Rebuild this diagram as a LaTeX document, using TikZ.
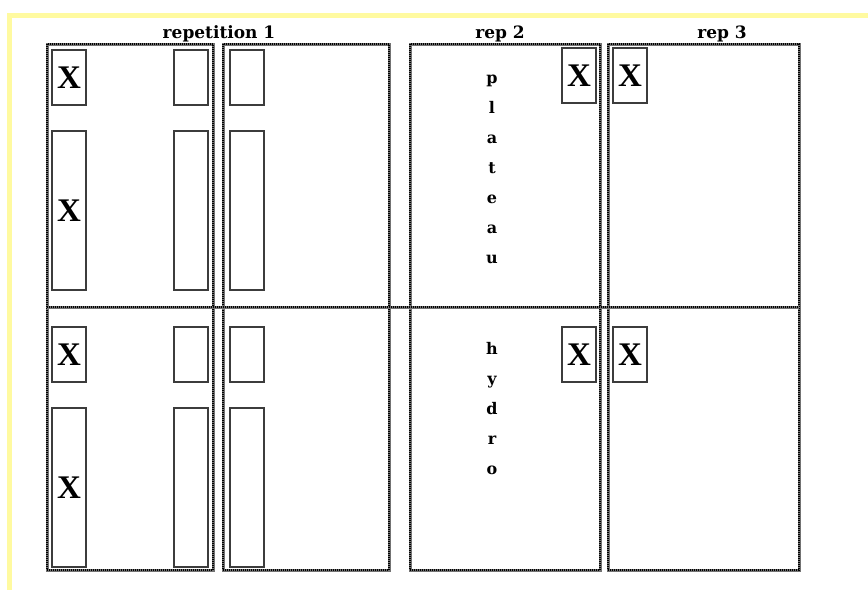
\documentclass[tikz,border=0pt]{standalone}
\usepackage{fontspec}
\setmainfont{DejaVu Serif}
\newfontfamily\xfont{Liberation Serif}
\definecolor{pageyellow}{RGB}{255,250,160}
\definecolor{boxline}{RGB}{60,60,60}
\tikzset{
  dotb/.style={draw=black!55, line width=3pt,
    postaction={draw=black, line width=1.2pt, dash pattern=on 1pt off 1pt}},
  ibox/.style={draw=boxline, line width=1.2pt, anchor=north west,
    inner sep=0pt, outer sep=0pt, minimum width=34pt},
  small/.style={ibox, minimum height=55pt},
  tall/.style={ibox, minimum height=159pt},
  xl/.style={font=\xfont\bfseries\fontsize{33}{33}\selectfont},
  ttl/.style={font=\bfseries\fontsize{17}{17}\selectfont, anchor=base, inner sep=0pt},
  vl/.style={font=\bfseries\fontsize{16}{16}\selectfont, anchor=base, inner sep=0pt}
}
\begin{document}
\begin{tikzpicture}[x=1pt,y=-1pt]
\useasboundingbox (0,0) rectangle (868,590);
% page frame
\fill[pageyellow] (7,13) rectangle (868,18);
\fill[pageyellow] (7,13) rectangle (12,590);
% titles
\node[ttl] (t1) at (219,38) {repetition 1};
\node[ttl] (t2) at (500,38) {rep 2};
\node[ttl] (t3) at (722,38) {rep 3};
% cell borders
\path[dotb] (47,44) rectangle (213,570);
\path[dotb] (223,44) rectangle (389,570);
\path[dotb] (410,44) rectangle (600,570);
\path[dotb] (608,44) rectangle (799,570);
\path[dotb] (47,307) -- (799,307);
% column A, top
\node[small, xl] (a1) at (52,50) {X};
\node[small] (a2) at (174,50) {};
\node[tall, xl] (a3) at (52,131) {X};
\node[tall] (a4) at (174,131) {};
% column B, top
\node[small] (b1) at (230,50) {};
\node[tall] (b2) at (230,131) {};
% column A, bottom
\node[small, xl] (a5) at (52,327) {X};
\node[small] (a6) at (174,327) {};
\node[tall, xl] (a7) at (52,408) {X};
\node[tall] (a8) at (174,408) {};
% column B, bottom
\node[small] (b3) at (230,327) {};
\node[tall] (b4) at (230,408) {};
% column C and D
\node[small, xl] (c1) at (562,48) {X};
\node[small, xl] (d1) at (613,48) {X};
\node[small, xl] (c2) at (562,327) {X};
\node[small, xl] (d2) at (613,327) {X};
% vertical words
\foreach \ch [count=\i] in {p,l,a,t,e,a,u}
  \node[vl] (p\i) at (492,{53+30*\i}) {\ch};
\foreach \ch [count=\i] in {h,y,d,r,o}
  \node[vl] (h\i) at (492,{324+30*\i}) {\ch};
\end{tikzpicture}
\end{document}
